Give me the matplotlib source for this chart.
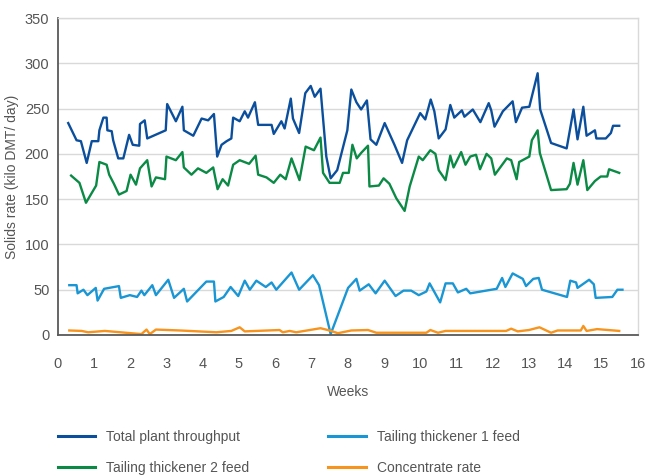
import matplotlib

matplotlib.use("Agg")

import matplotlib.pyplot as plt  # noqa: E402

plt.rcParams["font.family"] = ["Liberation Sans", "DejaVu Sans"]

# Total plant throughput (weeks, kilo DMT/day)
total_weeks = [0.29, 0.52, 0.64, 0.80, 0.94, 1.12, 1.15, 1.26, 1.35, 1.37, 1.49, 1.53, 1.67, 1.81,
               1.97, 2.07, 2.25, 2.27, 2.40, 2.47, 2.98, 3.02, 3.26, 3.44, 3.48, 3.74, 3.97, 4.15,
               4.31, 4.40, 4.52, 4.66, 4.79, 4.84, 5.02, 5.16, 5.25, 5.44, 5.53, 5.90, 5.96, 6.17,
               6.26, 6.43, 6.49, 6.66, 6.83, 6.98, 7.09, 7.25, 7.41, 7.53, 7.71, 7.99, 8.10, 8.24,
               8.37, 8.53, 8.63, 8.79, 9.02, 9.29, 9.50, 9.64, 10.00, 10.14, 10.29, 10.39, 10.51,
               10.70, 10.83, 10.94, 11.15, 11.22, 11.45, 11.66, 11.89, 11.96, 12.05, 12.28, 12.55,
               12.64, 12.81, 13.01, 13.24, 13.31, 13.61, 14.04, 14.23, 14.34, 14.50, 14.59, 14.82,
               14.86, 15.12, 15.26, 15.32, 15.49]
total_rate = [234, 215, 214, 190, 214, 214, 226, 240, 240, 226, 225, 215, 195, 195,
              221, 210, 209, 233, 237, 217, 226, 255, 236, 252, 226, 220, 239, 237,
              244, 197, 210, 214, 217, 240, 236, 247, 240, 257, 232, 232, 222, 236,
              228, 261, 239, 223, 267, 275, 263, 272, 197, 173, 182, 226, 271, 257,
              249, 259, 216, 210, 234, 210, 190, 215, 245, 238, 260, 247, 217,
              227, 254, 240, 248, 241, 249, 235, 256, 248, 230, 247, 258,
              235, 251, 252, 289, 249, 212, 206, 249, 216, 252, 220, 226,
              217, 217, 223, 231, 231]

# Tailing thickener 1 feed
tt1_weeks = [0.32, 0.52, 0.55, 0.71, 0.82, 1.05, 1.10, 1.28, 1.69, 1.74, 1.99, 2.19, 2.31, 2.39,
             2.61, 2.71, 3.05, 3.21, 3.48, 3.57, 4.10, 4.31, 4.35, 4.58, 4.77, 4.98, 5.16, 5.30,
             5.48, 5.74, 5.90, 6.03, 6.45, 6.66, 7.04, 7.21, 7.53, 8.01, 8.24, 8.33, 8.58, 8.77,
             9.02, 9.32, 9.54, 9.75, 9.96, 10.17, 10.26, 10.55, 10.70, 10.90, 11.04, 11.27, 11.38,
             12.11, 12.26, 12.35, 12.55, 12.83, 12.92, 13.12, 13.27, 13.36, 14.05, 14.14, 14.30,
             14.34, 14.66, 14.79, 14.84, 15.30, 15.44, 15.58]
tt1_rate = [55, 55, 46, 50, 44, 52, 38, 51, 54, 41, 44, 42, 49, 44,
            55, 44, 61, 41, 51, 37, 59, 59, 37, 42, 53, 43, 60, 50,
            60, 53, 58, 50, 69, 50, 66, 55, 1, 52, 62, 49, 56, 46,
            60, 43, 49, 49, 44, 48, 57, 36, 57, 57, 47, 51, 46,
            51, 63, 53, 68, 62, 54, 62, 63, 50, 42, 60, 58,
            52, 61, 56, 41, 42, 50, 50]

# Tailing thickener 2 feed
tt2_weeks = [0.37, 0.60, 0.78, 1.06, 1.15, 1.35, 1.42, 1.55, 1.69, 1.90, 2.01, 2.16, 2.27, 2.47,
             2.59, 2.71, 2.96, 3.00, 3.26, 3.44, 3.48, 3.69, 3.87, 4.10, 4.29, 4.41, 4.55, 4.70,
             4.84, 5.02, 5.28, 5.46, 5.53, 5.76, 5.96, 6.14, 6.29, 6.45, 6.67, 6.84, 7.07, 7.25,
             7.32, 7.50, 7.78, 7.87, 8.03, 8.13, 8.25, 8.37, 8.56, 8.60, 8.86, 8.99, 9.15, 9.34,
             9.57, 9.71, 9.96, 10.07, 10.28, 10.42, 10.51, 10.70, 10.83, 10.92, 11.13, 11.25,
             11.38, 11.54, 11.65, 11.83, 11.96, 12.06, 12.39, 12.51, 12.66, 12.73, 13.01, 13.08,
             13.24, 13.30, 13.61, 14.04, 14.13, 14.23, 14.34, 14.50, 14.61, 14.82, 14.98, 15.16,
             15.21, 15.49]
tt2_rate = [176, 168, 146, 165, 191, 188, 177, 167, 155, 159, 177, 166, 184, 193,
            164, 174, 172, 197, 193, 202, 185, 177, 184, 179, 185, 161, 172, 165,
            188, 193, 189, 198, 177, 174, 168, 177, 172, 195, 171, 208, 204, 218,
            179, 168, 168, 179, 179, 210, 195, 201, 209, 164, 165, 173, 167, 151,
            137, 164, 197, 193, 204, 200, 182, 171, 198, 185, 202, 188,
            197, 199, 183, 200, 195, 177, 195, 193, 172, 191, 197, 215,
            226, 201, 160, 161, 167, 190, 166, 193, 160, 170, 175, 175,
            183, 179]

# Concentrate rate
conc_weeks = [0.32, 0.66, 0.84, 1.30, 2.31, 2.45, 2.54, 2.71, 3.37, 4.38, 4.79, 5.02, 5.16, 6.12,
              6.21, 6.40, 6.58, 7.25, 7.50, 7.73, 8.10, 8.56, 8.79, 10.17, 10.28, 10.49, 10.70,
              12.37, 12.51, 12.69, 13.00, 13.29, 13.61, 13.79, 14.43, 14.50, 14.59, 14.88, 15.49]
conc_rate = [5, 4.5, 3, 4.5, 1, 6, 1, 6, 5, 3, 4.5, 8.5, 4, 5.5,
             3, 4.5, 3, 7.5, 5, 2, 5, 5.5, 2.5, 2.5, 5.5, 2.5, 4.5,
             4.5, 7, 4, 5.5, 8.5, 2.5, 5, 5, 10, 4.5, 6.5, 4.5]

W, H = 646, 475
TEXT = "#555555"
GRID = "#d9d9d9"

fig = plt.figure(figsize=(W / 100, H / 100), dpi=100)
ax = fig.add_axes([57.7 / W, 140 / H, 580 / W, 317 / H])

l_total, = ax.plot(total_weeks, total_rate, color="#0b4f9c", lw=1.7, label="Total plant throughput")
l_tt1, = ax.plot(tt1_weeks, tt1_rate, color="#1996d3", lw=1.7, label="Tailing thickener 1 feed")
l_tt2, = ax.plot(tt2_weeks, tt2_rate, color="#0a8a45", lw=1.7, label="Tailing thickener 2 feed")
l_conc, = ax.plot(conc_weeks, conc_rate, color="#f7941d", lw=1.7, label="Concentrate rate")

ax.set_xlim(0, 16)
ax.set_ylim(0, 350)
ax.set_xticks(range(0, 17))
ax.set_yticks(range(0, 351, 50))
ax.grid(axis="y", color=GRID, lw=1)
ax.set_axisbelow(True)
for side in ("top", "right"):
    ax.spines[side].set_color(GRID)
    ax.spines[side].set_linewidth(1)
for side in ("left", "bottom"):
    ax.spines[side].set_color("#595959")
    ax.spines[side].set_linewidth(1.3)
ax.tick_params(axis="x", length=0, pad=16, labelsize=10.5, labelcolor=TEXT)
ax.tick_params(axis="y", length=0, pad=6, labelsize=10.5, labelcolor=TEXT)

ax.set_xlabel("Weeks", fontsize=10, color=TEXT)
ax.xaxis.set_label_coords(0.5, -0.158)
ax.set_ylabel("Solids rate (kilo DMT/ day)", fontsize=10, color=TEXT)
ax.yaxis.set_label_coords(-0.066, 0.5)

# Two legend columns placed under the plot
leg_kw = dict(frameon=False, fontsize=10, handlelength=2.7, handletextpad=0.8,
              labelspacing=1.2, borderpad=0, borderaxespad=0, loc="upper left",
              labelcolor=TEXT)
leg1 = fig.legend(handles=[l_total, l_tt2], bbox_to_anchor=(57.7 / W, (H - 430) / H), **leg_kw)
leg2 = fig.legend(handles=[l_tt1, l_conc], bbox_to_anchor=(328.3 / W, (H - 430) / H), **leg_kw)
for leg in (leg1, leg2):
    for line in leg.get_lines():
        line.set_linewidth(2.2)

fig.savefig("out.png", dpi=100)
